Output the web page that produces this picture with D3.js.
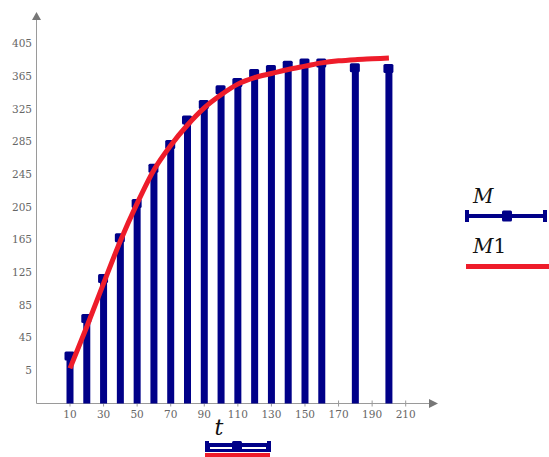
<!DOCTYPE html>
<html><head><meta charset="utf-8">
<script src="https://cdn.jsdelivr.net/npm/d3@7"></script>
<style>body{margin:0;background:#fff}svg{display:block}</style>
</head><body>
<svg id="c" width="549" height="457"></svg>
<script>
const tValues = [10,20,30,40,50,60,70,80,90,100,110,120,130,140,150,160,180,200];
const mValues = [22,68,117,167,209,252,281,311,330,348,357,368,373,378,381,381,375,374];
const t1Values = [10,20,30,40,50,60,70,80,90,100,110,120,130,140,150,160,170,180,190,200];
const m1Values = [7,58,111,163,209,250,280,305,326,342,355,363,368,373,377,381,383.5,385,386,387];
const xTicks = [10,30,50,70,90,110,130,150,170,190,210];
const yTicks = [5,45,85,125,165,205,245,285,325,365,405];

const svg = d3.select("#c");
const navy = "#000088", red = "#ee1c2a", axisCol = "#9a9a9a", txtCol = "#666";
const x = d3.scaleLinear().domain([10,210]).range([70,405.7]);
const y = d3.scaleLinear().domain([5,405]).range([370,43.3]);
const x0 = x.invert(36.5), x1 = x.invert(438);
const y0 = y.invert(403.5), y1 = y.invert(12);
const serif = "DejaVu Serif, Liberation Serif, serif";

// axes lines
svg.append("line").attr("x1",x(x0)).attr("x2",x(x1)-6).attr("y1",y(y0)).attr("y2",y(y0)).attr("stroke",axisCol);
svg.append("line").attr("x1",x(x0)).attr("x2",x(x0)).attr("y1",y(y0)).attr("y2",y(y1)+6).attr("stroke",axisCol);
svg.append("path").attr("d",`M${x(x1)},${y(y0)} l-9,-4.5 v9 z`).attr("fill","#777");
svg.append("path").attr("d",`M${x(x0)},${y(y1)} l-4.5,8 h9 z`).attr("fill","#777");

// x ticks
const xg = svg.append("g").attr("font-family",serif).attr("font-size",10.5).attr("fill",txtCol);
xTicks.forEach(v=>{
  svg.append("line").attr("x1",x(v)).attr("x2",x(v)).attr("y1",y(y0)-3).attr("y2",y(y0)+3).attr("stroke",axisCol);
  xg.append("text").attr("x",x(v)).attr("y",418).attr("text-anchor","middle").text(v);
});
const yg = svg.append("g").attr("font-family",serif).attr("font-size",10.5).attr("fill",txtCol);
yTicks.forEach(v=>{
  yg.append("text").attr("x",32).attr("y",y(v)+4).attr("text-anchor","end").text(v);
});

// stems
const bw = 7;
svg.append("g").selectAll("rect").data(tValues).join("rect")
  .attr("x",d=>x(d)-bw/2).attr("width",bw)
  .attr("y",(d,i)=>y(mValues[i])).attr("height",(d,i)=>y(y0)-y(mValues[i]))
  .attr("fill",navy);
svg.append("g").selectAll("rect").data(tValues).join("rect")
  .attr("x",d=>x(d)-5.5).attr("width",10)
  .attr("y",(d,i)=>y(mValues[i])-4.5).attr("height",9).attr("rx",1.5)
  .attr("fill",navy);

// red curve
const line = d3.line().x((d,i)=>x(t1Values[i])).y(d=>y(d)).curve(d3.curveMonotoneX);
svg.append("path").datum(m1Values).attr("d",line).attr("fill","none").attr("stroke",red).attr("stroke-width",5);

// right legend
svg.append("text").attr("x",473).attr("y",203).attr("font-family",serif).attr("font-style","italic").attr("font-size",20).attr("fill","#111").text("M");
svg.append("line").attr("x1",467).attr("x2",545).attr("y1",216).attr("y2",216).attr("stroke",navy).attr("stroke-width",4);
[467,545].forEach(px=>svg.append("rect").attr("x",px-2).attr("y",210).attr("width",4).attr("height",12).attr("fill",navy));
svg.append("rect").attr("x",502).attr("y",210.5).attr("width",10).attr("height",11).attr("rx",1.5).attr("fill",navy);
const m1t = svg.append("text").attr("x",473).attr("y",253).attr("font-family",serif).attr("font-size",20).attr("fill","#111");
m1t.append("tspan").attr("font-style","italic").text("M");
m1t.append("tspan").text("1");
svg.append("line").attr("x1",466).attr("x2",549).attr("y1",266.5).attr("y2",266.5).attr("stroke",red).attr("stroke-width",5);

// bottom label + traces
svg.append("text").attr("x",219).attr("y",435).attr("text-anchor","middle").attr("font-family",serif).attr("font-style","italic").attr("font-size",22).attr("fill","#111").text("t");
svg.append("rect").attr("x",206).attr("y",443).attr("width",64).attr("height",9).attr("fill",navy);
svg.append("rect").attr("x",210).attr("y",447).attr("width",56).attr("height",2).attr("fill","#fff");
[206,268].forEach(px=>svg.append("rect").attr("x",px-1).attr("y",441).attr("width",4).attr("height",11).attr("fill",navy));
svg.append("rect").attr("x",232).attr("y",441).attr("width",10).attr("height",11).attr("rx",1.5).attr("fill",navy);
svg.append("line").attr("x1",205).attr("x2",270).attr("y1",455).attr("y2",455).attr("stroke",red).attr("stroke-width",4);
</script>
</body></html>
